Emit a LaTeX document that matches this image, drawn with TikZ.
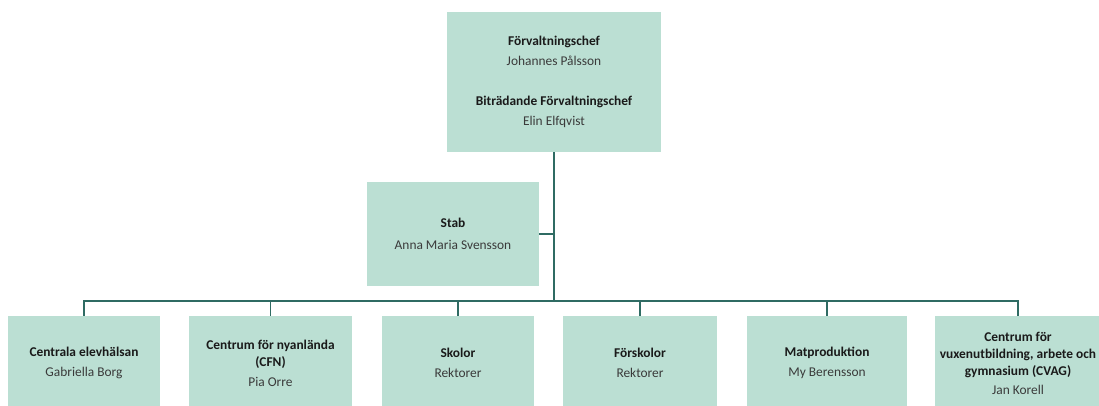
\documentclass[tikz,border=0pt]{standalone}
\usepackage{fontspec}
\setmainfont{Carlito}
\definecolor{boxfill}{HTML}{BBDFD3}
\definecolor{linec}{HTML}{2F6B63}
\definecolor{titlec}{HTML}{1A1A1A}
\definecolor{namec}{HTML}{3A3A3A}
\newcommand{\ttl}[1]{{\bfseries\color{titlec}#1}}
\newcommand{\nm}[1]{{\color{namec}#1}}
\begin{document}
\begin{tikzpicture}[x=1pt,y=-1pt,
  orgbox/.style={fill=boxfill, draw=none, inner sep=0pt, align=center,
    font=\fontsize{13.4}{17}\selectfont},
  conn/.style={draw=linec, line width=1.5pt}]
\clip (0,0) rectangle (1099,405);
\fill[white] (0,0) rectangle (1099,405);
% top box
\node[orgbox, minimum width=214pt, minimum height=140pt] (top) at (554,82)
  {\ttl{Förvaltningschef}\\[3pt]\nm{Johannes Pålsson}\\[23pt]\ttl{Biträdande Förvaltningschef}\\[3pt]\nm{Elin Elfqvist}};
% stab
\node[orgbox, minimum width=172pt, minimum height=104pt] (stab) at (453,234)
  {\ttl{Stab}\\[5pt]\nm{Anna Maria Svensson}};
% bottom row
\node[orgbox, minimum width=152pt, minimum height=94pt] (b1) at (84,363)
  {\ttl{Centrala elevhälsan}\\[3pt]\nm{Gabriella Borg}};
\node[orgbox, minimum width=163pt, minimum height=94pt] (b2) at (270.5,363)
  {\ttl{Centrum för nyanlända}\\\ttl{(CFN)}\\[3pt]\nm{Pia Orre}};
\node[orgbox, minimum width=152pt, minimum height=94pt] (b3) at (458,363)
  {\ttl{Skolor}\\[3pt]\nm{Rektorer}};
\node[orgbox, minimum width=154pt, minimum height=94pt] (b4) at (640,363)
  {\ttl{Förskolor}\\[3pt]\nm{Rektorer}};
\node[orgbox, minimum width=160pt, minimum height=94pt] (b5) at (827,363)
  {\ttl{Matproduktion}\\[3pt]\nm{My Berensson}};
\node[orgbox, minimum width=166pt, minimum height=94pt] (b6) at (1018,363)
  {\ttl{Centrum för}\\\ttl{vuxenutbildning, arbete och}\\\ttl{gymnasium (CVAG)}\\[2pt]\nm{Jan Korell}};
% connectors
\coordinate (bus) at (top.south |- 0,301);
\draw[conn] (top.south) -- (bus);
\draw[conn] (stab.east) -- (stab.east -| top.south);
\foreach \b in {b1,b2,b3,b4,b5,b6}
  \draw[conn] (\b.north) |- (bus);
\end{tikzpicture}
\end{document}
